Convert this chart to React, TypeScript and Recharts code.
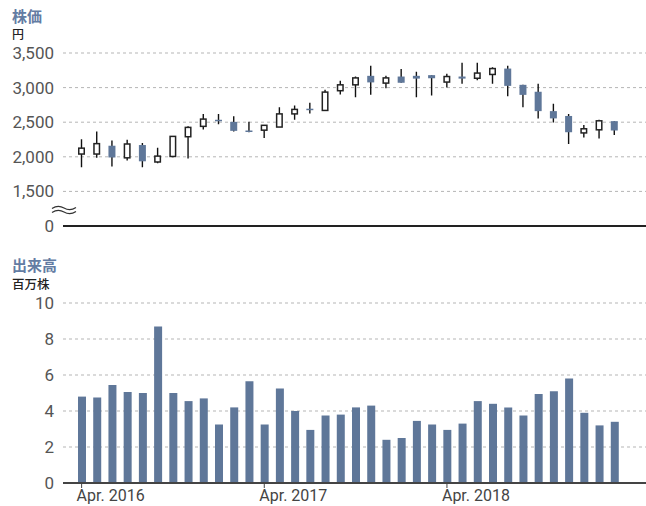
import { ComposedChart, BarChart, Bar, XAxis, YAxis, CartesianGrid } from "recharts";

const months = [
  "2016-04", "2016-05", "2016-06", "2016-07", "2016-08", "2016-09",
  "2016-10", "2016-11", "2016-12", "2017-01", "2017-02", "2017-03",
  "2017-04", "2017-05", "2017-06", "2017-07", "2017-08", "2017-09",
  "2017-10", "2017-11", "2017-12", "2018-01", "2018-02", "2018-03",
  "2018-04", "2018-05", "2018-06", "2018-07", "2018-08", "2018-09",
  "2018-10", "2018-11", "2018-12", "2019-01", "2019-02", "2019-03",
];

const openPrices = [
  2040, 2040, 2160, 1985, 2170, 1925, 2005, 2290, 2440, 2535, 2505, 2380,
  2385, 2430, 2620, 2695, 2670, 2955, 3040, 3170, 3065, 3160, 3170, 3180,
  3080, 3160, 3135, 3190, 3275, 3040, 2940, 2660, 2590, 2345, 2390, 2515,
];
const closePrices = [
  2125, 2190, 1990, 2185, 1935, 2010, 2295, 2425, 2545, 2515, 2375, 2365,
  2455, 2620, 2685, 2680, 2935, 3040, 3140, 3075, 3140, 3070, 3130, 3135,
  3160, 3130, 3210, 3275, 3025, 2895, 2660, 2555, 2355, 2405, 2520, 2380,
];
const highPrices = [
  2255, 2365, 2235, 2245, 2200, 2130, 2300, 2440, 2620, 2620, 2585, 2505,
  2460, 2715, 2740, 2780, 2970, 3100, 3160, 3315, 3170, 3270, 3230, 3180,
  3200, 3360, 3360, 3295, 3315, 3040, 3055, 2765, 2620, 2460, 2535, 2515,
];
const lowPrices = [
  1850, 1985, 1860, 1945, 1850, 1905, 1995, 1975, 2395, 2470, 2365, 2355,
  2270, 2430, 2535, 2625, 2670, 2900, 2860, 2895, 2990, 3070, 2860, 2885,
  3000, 3055, 3105, 3055, 2875, 2715, 2555, 2495, 2185, 2280, 2265, 2315,
];

// 出来高（百万株）
const volumes = [
  4.8, 4.75, 5.45, 5.05, 5.0, 8.7, 5.0, 4.55, 4.7, 3.25, 4.2, 5.65,
  3.25, 5.25, 4.0, 2.95, 3.75, 3.8, 4.2, 4.3, 2.4, 2.5, 3.45, 3.25,
  2.95, 3.3, 4.55, 4.4, 4.2, 3.75, 4.95, 5.1, 5.8, 3.9, 3.2, 3.4,
];

const priceTicks = [1000, 1500, 2000, 2500, 3000, 3500];
const volumeTicks = [0, 2, 4, 6, 8, 10];
const monthNames = ["Jan.", "Feb.", "Mar.", "Apr.", "May", "Jun.", "Jul.", "Aug.", "Sep.", "Oct.", "Nov.", "Dec."];

const priceData = months.map((month, i) => ({
  month,
  open: openPrices[i],
  close: closePrices[i],
  high: highPrices[i],
  low: lowPrices[i],
}));

const volumeData = months.map((month, i) => ({ month, volume: volumes[i] }));

const BLUE = "#5f7799";
const TITLE = "#637ca3";
const FONT = "Roboto, 'Noto Sans CJK JP', sans-serif";
const JP = "'Noto Sans CJK JP', sans-serif";
const PAD = { left: 11, right: 24 };

function Candle(props: any) {
  const { x, y, width, height, payload } = props;
  const { open, close, high, low } = payload;
  const top0 = height < 0 ? y + height : y;
  const h = Math.abs(height);
  const ppu = h / (high - low);
  const cx = x + width / 2;
  const yOf = (v: number) => top0 + (high - v) * ppu;
  const bodyTop = yOf(Math.max(open, close));
  const bodyH = Math.max(yOf(Math.min(open, close)) - bodyTop, 1.5);
  const up = close >= open;
  return (
    <g>
      <line x1={cx} x2={cx} y1={top0} y2={top0 + h} stroke="#111" strokeWidth={1.4} />
      {up ? (
        <rect x={x + 0.75} y={bodyTop} width={width - 1.5} height={bodyH} fill="#fff" stroke="#222" strokeWidth={1.5} />
      ) : (
        <rect x={x} y={bodyTop} width={width} height={bodyH} fill={BLUE} />
      )}
    </g>
  );
}

function MonthTick(props: any) {
  const { x, y, payload } = props;
  const [yr, mo] = String(payload.value).split("-");
  return (
    <text x={x - 5} y={y} dy="0.71em" textAnchor="start" fontSize={16} fill="#444" fontFamily={FONT}>
      {`${monthNames[Number(mo) - 1]} ${yr}`}
    </text>
  );
}

const yTick = { fontSize: 17, fill: "#555", fontFamily: FONT };

export default function App() {
  return (
    <div style={{ position: "absolute", left: 0, top: 0, width: 646, height: 506, background: "#fff", fontFamily: FONT }}>
      <div style={{ position: "absolute", left: 12, top: 7, fontSize: 15, lineHeight: "18px", fontWeight: 700, color: TITLE, fontFamily: JP }}>株価</div>
      <div style={{ position: "absolute", left: 12, top: 27, fontSize: 12, lineHeight: "14px", fontWeight: 500, color: "#222", fontFamily: JP }}>円</div>

      <div style={{ position: "absolute", left: 0, top: 0 }}>
        <ComposedChart width={646} height={240} data={priceData} margin={{ top: 53, right: 0, left: 0, bottom: 13 }}>
          <CartesianGrid vertical={false} stroke="#b5b5b5" strokeDasharray="3 3" />
          <XAxis dataKey="month" tick={false} tickLine={false} height={1} padding={PAD} axisLine={{ stroke: "#222", strokeWidth: 2 }} />
          <YAxis
            domain={[1000, 3500]}
            ticks={priceTicks}
            allowDataOverflow
            width={63}
            tickLine={false}
            axisLine={false}
            tickMargin={3}
            tick={yTick}
            tickFormatter={(v: number) => (v === 1000 ? "0" : v.toLocaleString("en-US"))}
          />
          <Bar dataKey={(d: any) => [d.low, d.high]} barSize={7} shape={<Candle />} isAnimationActive={false} />
        </ComposedChart>
      </div>

      <svg style={{ position: "absolute", left: 0, top: 0 }} width={90} height={230}>
        <path d="M52 208.5 Q58 204.5 64 208 T76 207.5" fill="none" stroke="#333" strokeWidth={1.2} />
        <path d="M52 212.5 Q58 208.5 64 212 T76 211.5" fill="none" stroke="#333" strokeWidth={1.2} />
      </svg>

      <div style={{ position: "absolute", left: 12, top: 256, fontSize: 15, lineHeight: "18px", fontWeight: 700, color: TITLE, fontFamily: JP }}>出来高</div>
      <div style={{ position: "absolute", left: 12, top: 277, fontSize: 12.5, lineHeight: "14px", fontWeight: 500, color: "#222", fontFamily: JP }}>百万株</div>

      <div style={{ position: "absolute", left: 0, top: 250 }}>
        <BarChart width={646} height={256} data={volumeData} margin={{ top: 53, right: 0, left: 0, bottom: 0 }}>
          <CartesianGrid vertical={false} stroke="#b5b5b5" strokeDasharray="3 3" />
          <XAxis
            dataKey="month"
            interval={11}
            height={23}
            padding={PAD}
            tickSize={5}
            tickMargin={2}
            tickLine={{ stroke: "#444" }}
            axisLine={{ stroke: "#444", strokeWidth: 2 }}
            tick={<MonthTick />}
          />
          <YAxis
            domain={[0, 10]}
            ticks={volumeTicks}
            width={63}
            tickLine={false}
            axisLine={false}
            tickMargin={3}
            tick={yTick}
          />
          <Bar dataKey="volume" barSize={8} fill={BLUE} isAnimationActive={false} />
        </BarChart>
      </div>
    </div>
  );
}
